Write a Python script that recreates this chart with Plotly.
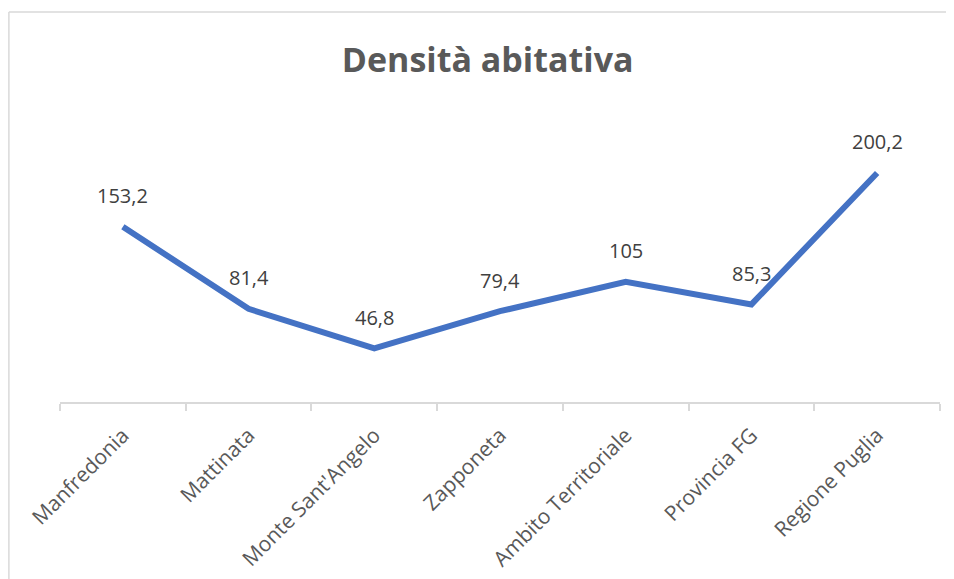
import plotly.graph_objects as go

# data
categorie = ["Manfredonia", "Mattinata", "Monte Sant'Angelo", "Zapponeta",
             "Ambito Territoriale", "Provincia FG", "Regione Puglia"]
densita = [153.2, 81.4, 46.8, 79.4, 105, 85.3, 200.2]
etichette = ["153,2", "81,4", "46,8", "79,4", "105", "85,3", "200,2"]

fig = go.Figure()
fig.add_trace(go.Scatter(x=categorie, y=densita, mode="lines",
                         line=dict(color="#4472C4", width=6),
                         hoverinfo="skip", showlegend=False))

# data labels above the points
for c, v, t in zip(categorie, densita, etichette):
    fig.add_annotation(x=c, y=v, text=t, showarrow=False, yshift=31,
                       font=dict(family="Open Sans", size=20, color="#404040"))

# page puts the figure 8px in from the top-left, so margins are shifted
fig.update_layout(
    width=954, height=579,
    paper_bgcolor="white", plot_bgcolor="white",
    margin=dict(l=52, r=22, t=108, b=185),
    title=dict(text="<b>Densità abitativa</b>", x=0.486, xref="paper",
               xanchor="center", y=1 - 52 / 579, yanchor="middle",
               font=dict(family="Open Sans", size=34, color="#595959")),
    xaxis=dict(type="category", range=[-0.5, 6.5], showgrid=False,
               showline=True, linecolor="#D9D9D9", linewidth=1.5,
               ticks="outside", tickson="boundaries", ticklen=7,
               tickcolor="#D9D9D9", tickwidth=1.5, tickangle=-45,
               ticklabelstandoff=11,
               tickfont=dict(family="Open Sans", size=21, color="#595959")),
    yaxis=dict(range=[0, 250], visible=False),
)

# chart frame: only top and left edges show in the reference
x_left = -52 / 880 + 0.001
y_top = (394 - 4) / 286
fig.add_shape(type="line", xref="paper", yref="paper",
              x0=x_left, x1=1.2, y0=y_top, y1=y_top,
              line=dict(color="#D9D9D9", width=1.5), layer="below")
fig.add_shape(type="line", xref="paper", yref="paper",
              x0=x_left, x1=x_left, y0=y_top, y1=-1,
              line=dict(color="#D9D9D9", width=1.5), layer="below")

fig.write_html("out.html")
